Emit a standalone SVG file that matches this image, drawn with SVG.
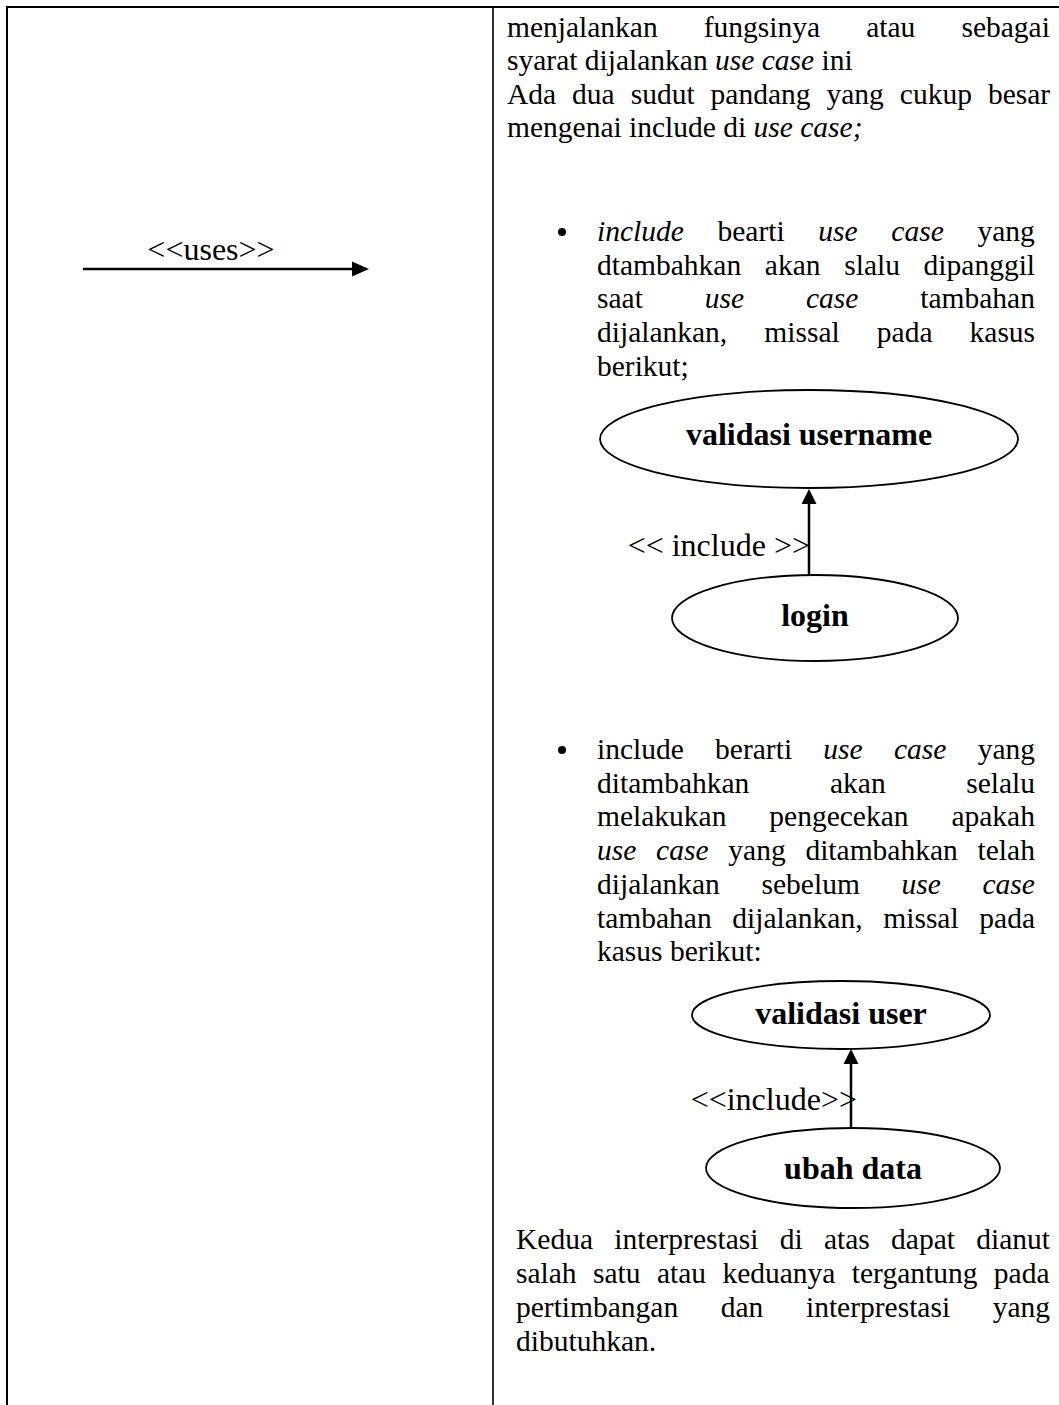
<svg xmlns="http://www.w3.org/2000/svg" width="1059" height="1405" viewBox="0 0 1059 1405">
  <style>
    .body { font-family: "Liberation Serif", "Times New Roman", serif; font-size: 29.5px; fill: #000; }
    .it { font-style: italic; }
    .lbl { font-family: "Liberation Serif", "Times New Roman", serif; font-size: 32px; fill: #000; }
    .uc { font-family: "Liberation Serif", "Times New Roman", serif; font-size: 32px; font-weight: bold; fill: #000; text-anchor: middle; }
    .oval { fill: #fff; stroke: #000; stroke-width: 1.8; }
    .rule { stroke: #000; fill: none; }
    .link { stroke: #000; stroke-width: 2.5; fill: none; }
    .head { fill: #000; }
  </style>

  <rect width="1059" height="1405" fill="#fff"/>

  <!-- table frame -->
  <g id="table">
    <line class="rule" x1="6" y1="7" x2="1059" y2="7" stroke-width="2"/>
    <line class="rule" x1="7" y1="6" x2="7" y2="1405" stroke-width="2"/>
    <line class="rule" x1="493" y1="7" x2="493" y2="1405" stroke-width="1.6"/>
  </g>

  <!-- left cell: uses notation -->
  <g id="uses-notation">
    <text class="lbl" x="211" y="260" text-anchor="middle">&lt;&lt;uses&gt;&gt;</text>
    <line class="link" x1="83" y1="269" x2="354" y2="269"/>
    <polygon class="head" points="369,269 352,261.5 352,276.5"/>
  </g>

  <!-- right cell: description text -->
  <g id="intro-text">
    <text class="body" x="507" y="36.5" word-spacing="38.7">menjalankan fungsinya atau sebagai</text>
    <text class="body" x="507" y="70.1">syarat dijalankan <tspan class="it">use case</tspan> ini</text>
    <text class="body" x="507" y="103.7" word-spacing="8.6">Ada dua sudut pandang yang cukup besar</text>
    <text class="body" x="507" y="137.3">mengenai include di <tspan class="it">use case;</tspan></text>
  </g>

  <g id="bullet-1">
    <circle cx="562" cy="232" r="4"/>
    <text class="body" x="597" y="241" word-spacing="26.3"><tspan class="it">include</tspan> bearti <tspan class="it">use case</tspan> yang</text>
    <text class="body" x="597" y="274.7" word-spacing="16.3">dtambahkan akan slalu dipanggil</text>
    <text class="body" x="597" y="308.4" word-spacing="54.5">saat <tspan class="it">use case</tspan> tambahan</text>
    <text class="body" x="597" y="342.1" word-spacing="29.7">dijalankan, missal pada kasus</text>
    <text class="body" x="597" y="375.8">berikut;</text>
  </g>

  <!-- first include example -->
  <g id="uc-validasi-username">
    <ellipse class="oval" cx="809" cy="439" rx="209" ry="49"/>
    <text class="uc" x="809" y="445">validasi username</text>
  </g>
  <g id="uc-login">
    <ellipse class="oval" cx="815" cy="618" rx="143" ry="43"/>
    <text class="uc" x="815" y="626">login</text>
  </g>

  <g id="bullet-2">
    <circle cx="562" cy="750" r="4"/>
    <text class="body" x="597" y="759" word-spacing="23.9">include berarti <tspan class="it">use case</tspan> yang</text>
    <text class="body" x="597" y="792.7" word-spacing="73.2">ditambahkan akan selalu</text>
    <text class="body" x="597" y="826.4" word-spacing="35.5">melakukan pengecekan apakah</text>
    <text class="body" x="597" y="860.1" word-spacing="12.4"><tspan class="it">use case</tspan> yang ditambahkan telah</text>
    <text class="body" x="597" y="893.8" word-spacing="34.3">dijalankan sebelum <tspan class="it">use case</tspan></text>
    <text class="body" x="597" y="927.5" word-spacing="13.3">tambahan dijalankan, missal pada</text>
    <text class="body" x="597" y="961.2">kasus berikut:</text>
  </g>

  <!-- second include example -->
  <g id="uc-validasi-user">
    <ellipse class="oval" cx="841" cy="1015" rx="149" ry="34"/>
    <text class="uc" x="841" y="1024">validasi user</text>
  </g>
  <g id="uc-ubah-data">
    <ellipse class="oval" cx="853" cy="1168" rx="147" ry="40"/>
    <text class="uc" x="853" y="1179">ubah data</text>
  </g>

  <g id="closing-text">
    <text class="body" x="516" y="1249" word-spacing="13.9">Kedua interprestasi di atas dapat dianut</text>
    <text class="body" x="516" y="1283" word-spacing="9">salah satu atau keduanya tergantung pada</text>
    <text class="body" x="516" y="1317" word-spacing="35.2">pertimbangan dan interprestasi yang</text>
    <text class="body" x="516" y="1351">dibutuhkan.</text>
  </g>

  <!-- include connectors -->
  <g id="connectors">
    <line class="link" x1="809" y1="575" x2="809" y2="502"/>
    <polygon class="head" points="809,489 801.5,504 816.5,504"/>
    <text class="lbl" x="810" y="556" text-anchor="end">&lt;&lt; include &gt;&gt;</text>

    <line class="link" x1="851" y1="1128" x2="851" y2="1062"/>
    <polygon class="head" points="851,1049 843.5,1064 858.5,1064"/>
    <text class="lbl" x="857" y="1110" text-anchor="end">&lt;&lt;include&gt;&gt;</text>
  </g>
</svg>
